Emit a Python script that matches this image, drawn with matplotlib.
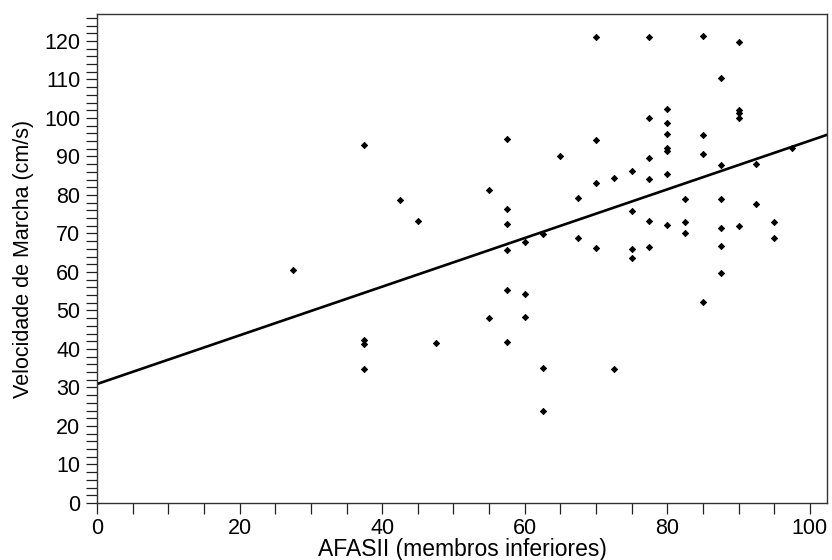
import numpy as np
import matplotlib.pyplot as plt
from matplotlib.ticker import MultipleLocator

plt.rcParams['font.family'] = ['Liberation Sans', 'DejaVu Sans']

# AFASII (membros inferiores) x velocidade de marcha (cm/s)
afasii = [27.5, 37.5, 37.5, 37.5, 37.5, 42.5, 45, 47.5,
          55, 55, 57.5, 57.5, 57.5, 57.5, 57.5, 57.5,
          60, 60, 60, 62.5, 62.5, 62.5, 65, 67.5, 67.5,
          70, 70, 70, 70, 72.5, 72.5, 75, 75, 75, 75,
          77.5, 77.5, 77.5, 77.5, 77.5, 77.5,
          80, 80, 80, 80, 80, 80, 80,
          82.5, 82.5, 82.5, 85, 85, 85, 85,
          87.5, 87.5, 87.5, 87.5, 87.5, 87.5,
          90, 90, 90, 90, 90, 92.5, 92.5, 95, 95, 97.5]
velocidade = [60.5, 92.9, 42.3, 41.3, 34.8, 78.7, 73.3, 41.5,
              81.2, 48.1, 94.6, 76.4, 72.5, 65.8, 55.4, 41.9,
              67.7, 54.4, 48.3, 69.8, 35.1, 23.8, 90.0, 79.3, 68.8,
              121.1, 94.2, 83.1, 66.1, 84.4, 34.9, 86.2, 75.8, 65.9, 63.7,
              121.1, 99.9, 89.7, 84.2, 73.3, 66.5,
              102.3, 98.7, 95.9, 92.1, 91.5, 85.5, 72.2,
              79.0, 72.9, 70.1, 121.3, 95.7, 90.6, 52.1,
              110.4, 87.8, 79.0, 71.5, 66.7, 59.7,
              119.7, 102.1, 101.2, 99.9, 71.9, 88.1, 77.6, 73.1, 68.8, 92.2]
# reta de regressao
intercepto = 30.9
inclinacao = 0.632

fig = plt.figure(figsize=(8.32, 5.6), dpi=100)
ax = fig.add_axes([0.1166, 0.1018, 0.8774, 0.8732])

ax.plot(afasii, velocidade, 'D', color='black', markersize=3.2, markeredgewidth=0.6)
ax.axline((0, intercepto), slope=inclinacao, color='black', linewidth=1.9)

ax.set_xlim(0, 102.4)
ax.set_ylim(0, 127)
ax.xaxis.set_major_locator(MultipleLocator(20))
ax.xaxis.set_minor_locator(MultipleLocator(5))
ax.yaxis.set_major_locator(MultipleLocator(10))
ax.yaxis.set_minor_locator(MultipleLocator(2))
ax.tick_params(which='both', direction='out', length=8, width=0.9, color='#222222',
               top=False, right=False, labelsize=15.5)
ax.tick_params(axis='x', pad=3)
ax.tick_params(axis='y', pad=4)

for s in ax.spines.values():
    s.set_color('#333333')
    s.set_linewidth(1.0)

ax.set_xlabel('AFASII (membros inferiores)', fontsize=16.5, labelpad=-1)
ax.set_ylabel('Velocidade de Marcha (cm/s)', fontsize=15.5, labelpad=7)

fig.savefig('out.png', dpi=100)
